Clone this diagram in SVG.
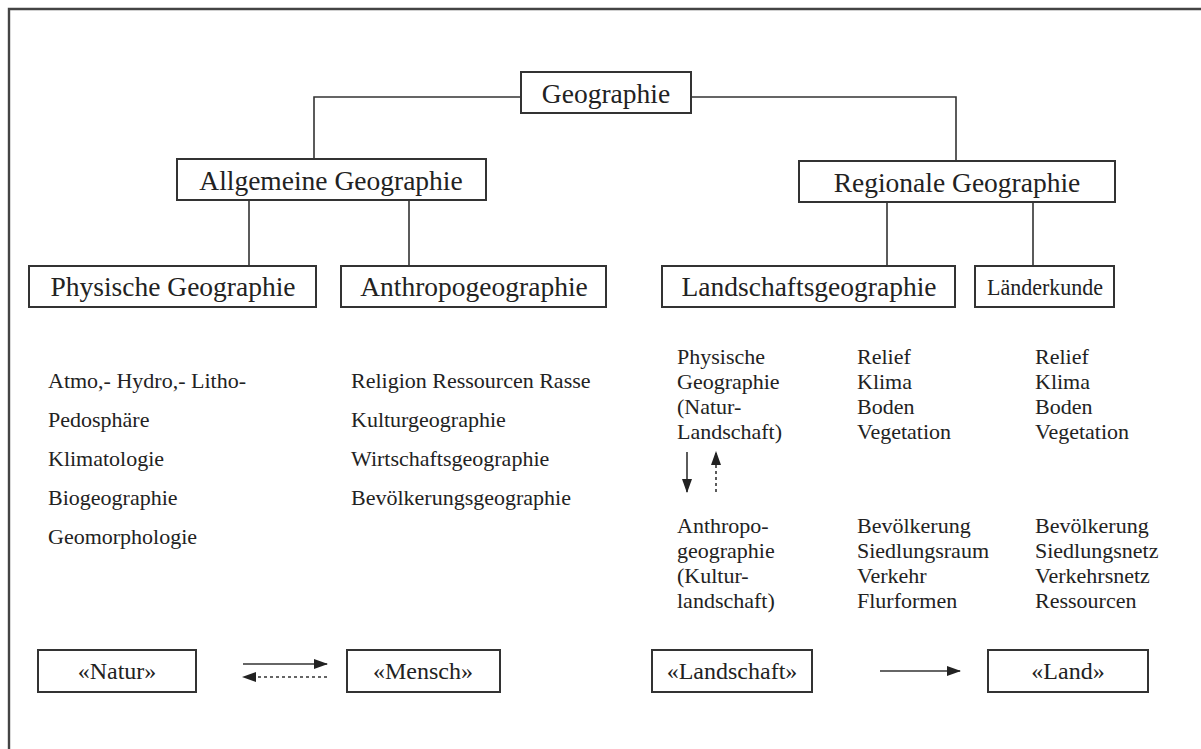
<svg xmlns="http://www.w3.org/2000/svg" width="1201" height="749" viewBox="0 0 1201 749">
<defs>
<style>
.box{fill:#fff;stroke:#333;stroke-width:2}
.ln{fill:none;stroke:#333;stroke-width:1.6}
.dash{fill:none;stroke:#333;stroke-width:1.6;stroke-dasharray:3 3}
.t{font-family:"Liberation Serif","Times New Roman",serif;fill:#222}
.h{font-size:27.5px;text-anchor:middle}
.b{font-size:22px}
.s{font-size:24px;text-anchor:middle}
</style>
<marker id="ah" viewBox="0 0 14 10" refX="13" refY="5" markerWidth="14" markerHeight="10" markerUnits="userSpaceOnUse" orient="auto">
<path d="M0,0 L14,5 L0,10 Z" fill="#222"/>
</marker>
</defs>
<rect width="1201" height="749" fill="#fff"/>
<path d="M9,749 V9 H1201" fill="none" stroke="#444" stroke-width="2.4"/>

<g id="connectors">
<path class="ln" d="M521,97 H314 V159"/>
<path class="ln" d="M691,97 H956 V161"/>
<path class="ln" d="M249,200 V266 M409,200 V266"/>
<path class="ln" d="M887,202 V266 M1033,202 V266"/>
<path class="ln" d="M687,452 V492" marker-end="url(#ah)"/>
<path class="dash" d="M716,492 V452" marker-end="url(#ah)"/>
<path class="ln" d="M243,664 H327" marker-end="url(#ah)"/>
<path class="dash" d="M327,677 H243" marker-end="url(#ah)"/>
<path class="ln" d="M880,671 H960" marker-end="url(#ah)"/>
</g>

<g id="geographie"><rect class="box" x="521" y="72" width="170" height="41"/><text class="t h" x="606" y="103">Geographie</text></g>
<g id="allgemeine"><rect class="box" x="177" y="159" width="309" height="41"/><text class="t h" x="331" y="190">Allgemeine Geographie</text></g>
<g id="regionale"><rect class="box" x="799" y="161" width="316" height="41"/><text class="t h" x="957" y="192">Regionale Geographie</text></g>
<g id="physische"><rect class="box" x="29" y="266" width="287" height="41"/><text class="t h" x="173" y="296">Physische Geographie</text></g>
<g id="anthropo"><rect class="box" x="341" y="266" width="265" height="41"/><text class="t h" x="474" y="296">Anthropogeographie</text></g>
<g id="landschaftsgeo"><rect class="box" x="662" y="266" width="293" height="41"/><text class="t h" x="809" y="296">Landschaftsgeographie</text></g>
<g id="laenderkunde"><rect class="box" x="975" y="266" width="139" height="41"/><text class="t" x="1045" y="295" font-size="24" text-anchor="middle" textLength="116" lengthAdjust="spacingAndGlyphs">Länderkunde</text></g>

<g id="physische-list" class="t b">
<text x="48" y="388">Atmo,- Hydro,- Litho-</text>
<text x="48" y="427">Pedosphäre</text>
<text x="48" y="466">Klimatologie</text>
<text x="48" y="505">Biogeographie</text>
<text x="48" y="544">Geomorphologie</text>
</g>
<g id="anthropo-list" class="t b">
<text x="351" y="388">Religion Ressourcen Rasse</text>
<text x="351" y="427">Kulturgeographie</text>
<text x="351" y="466">Wirtschaftsgeographie</text>
<text x="351" y="505">Bevölkerungsgeographie</text>
</g>
<g id="landschaft-col1" class="t b">
<text x="677" y="364">Physische</text>
<text x="677" y="389">Geographie</text>
<text x="677" y="414">(Natur-</text>
<text x="677" y="439">Landschaft)</text>
<text x="677" y="533">Anthropo-</text>
<text x="677" y="558">geographie</text>
<text x="677" y="583">(Kultur-</text>
<text x="677" y="608">landschaft)</text>
</g>
<g id="landschaft-col2" class="t b">
<text x="857" y="364">Relief</text>
<text x="857" y="389">Klima</text>
<text x="857" y="414">Boden</text>
<text x="857" y="439">Vegetation</text>
<text x="857" y="533">Bevölkerung</text>
<text x="857" y="558">Siedlungsraum</text>
<text x="857" y="583">Verkehr</text>
<text x="857" y="608">Flurformen</text>
</g>
<g id="laender-col" class="t b">
<text x="1035" y="364">Relief</text>
<text x="1035" y="389">Klima</text>
<text x="1035" y="414">Boden</text>
<text x="1035" y="439">Vegetation</text>
<text x="1035" y="533">Bevölkerung</text>
<text x="1035" y="558">Siedlungsnetz</text>
<text x="1035" y="583">Verkehrsnetz</text>
<text x="1035" y="608">Ressourcen</text>
</g>

<g id="natur"><rect class="box" x="38" y="650" width="158" height="42"/><text class="t s" x="117" y="679">«Natur»</text></g>
<g id="mensch"><rect class="box" x="347" y="650" width="153" height="42"/><text class="t s" x="423" y="679">«Mensch»</text></g>
<g id="landschaft"><rect class="box" x="652" y="650" width="160" height="42"/><text class="t s" x="732" y="679">«Landschaft»</text></g>
<g id="land"><rect class="box" x="988" y="650" width="160" height="42"/><text class="t s" x="1068" y="679">«Land»</text></g>
</svg>
